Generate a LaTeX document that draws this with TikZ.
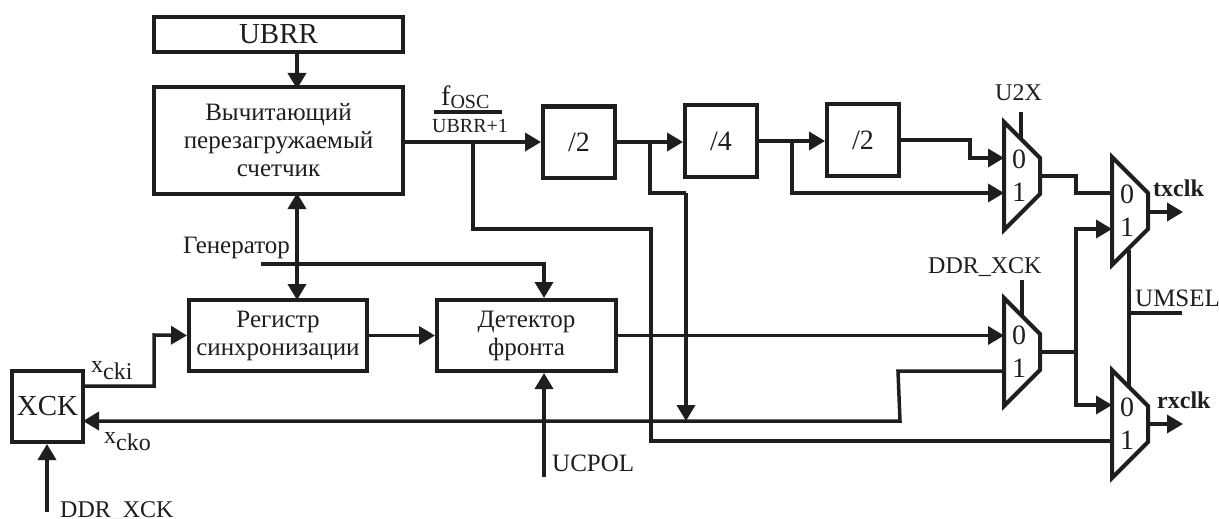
\documentclass[tikz,border=0pt]{standalone}
\usepackage{fontspec}
\setmainfont{Liberation Serif}
\usetikzlibrary{arrows.meta,calc}
\definecolor{ink}{HTML}{1E1E1E}
\newcommand{\fs}[1]{\fontsize{#1}{#1}\selectfont}
\tikzset{
  blk/.style={draw=ink,line width=4pt,fill=white,inner sep=0pt,align=center,text=ink},
  txtblk/.style={blk,font=\fontsize{25}{28}\selectfont},
  wire/.style={draw=ink,line width=3.5pt,line join=miter},
  arr/.style={wire,-{Triangle[length=16pt,width=18pt]}},
  darr/.style={wire,{Triangle[length=16pt,width=18pt]}-{Triangle[length=16pt,width=18pt]}},
  lab/.style={inner sep=0pt,text=ink,anchor=base west},
  muxshape/.style={draw=ink,line width=4pt,fill=white,line join=miter},
}
% mux: name, left x, top y
\newcommand{\muxblk}[3]{%
  \coordinate (#1-a) at (#2,#3);
  \coordinate (#1-b) at (#2+36,#3+36);
  \coordinate (#1-c) at (#2+36,#3+72);
  \coordinate (#1-d) at (#2,#3+108);
  \filldraw[muxshape] (#1-a) -- (#1-b) -- (#1-c) -- (#1-d) -- cycle;
  \node[inner sep=0pt,text=ink] (#1-l0) at (#2+15,#3+37) {\fs{28}0};
  \node[inner sep=0pt,text=ink] (#1-l1) at (#2+15,#3+70) {\fs{28}1};
}
\begin{document}
\begin{tikzpicture}[x=1pt,y=-1pt]
\useasboundingbox (0,0) rectangle (1219,519);
\fill[white] (0,0) rectangle (1219,519);

\coordinate (tapA) at (473,142);
\coordinate (tapB) at (650,142);
\coordinate (tapC) at (792,141);
\coordinate (genL) at (261,264);
\coordinate (polB) at (544,477);
\coordinate (ddrB) at (47,512);
\coordinate (u2xT) at (1021,112);
\coordinate (ddrT) at (1022,280);
\coordinate (umselT) at (1129,250);
\coordinate (umselB) at (1129,387);
\coordinate (umselJ) at (1129,313);
\coordinate (umselE) at (1182,313);
\coordinate (txE) at (1183,212);
\coordinate (rxE) at (1183,424);
\coordinate (xckoJ) at (686,421);

% blocks
\node[blk,minimum width=249pt,minimum height=35pt] (ubrr) at (278.5,34.5) {\fs{29}UBRR};
\node[txtblk,minimum width=249pt,minimum height=106pt] (cnt) at (278.5,140.5) {Вычитающий\\перезагружаемый\\счетчик};
\node[blk,minimum width=72pt,minimum height=71pt] (d1) at (579,142) {\fs{28}/2};
\node[blk,minimum width=72pt,minimum height=72pt] (d2) at (721,141) {\fs{28}/4};
\node[blk,minimum width=72pt,minimum height=72pt] (d3) at (863,140) {\fs{28}/2};
\node[txtblk,minimum width=178pt,minimum height=71pt] (reg) at (278,335.5) {Регистр\\синхронизации};
\node[txtblk,minimum width=179pt,minimum height=71pt] (det) at (526.5,335.5) {Детектор\\фронта};
\node[blk,minimum width=71pt,minimum height=71pt] (xck) at (47.5,406.5) {\fs{29}XCK};

% top wires
\draw[arr] (ubrr.south -| cnt.north) ++(18.5,0) -- ++(0,35);
\draw[arr] (cnt.east |- d1.west) -- (d1.west);
\draw[wire] (tapA) -- (473,229) -- (651,229) -- (651,441) -- (1112,441);
\draw[arr] (d1.east) -- (d1.east -| d2.west);
\draw[wire] (tapB) -- (650,193) -- (686,193);
\draw[arr] (686,193) -- (xckoJ);
\draw[arr] (d2.east) -- (d2.east -| d3.west);
\draw[arr] (tapC) -- (792,193) -- (1004,193);
\draw[arr] (d3.east) -- (970,140) -- (970,158) -- (1004,158);

% generator
\draw[darr] (297,193) -- (297,300);
\draw[arr] (genL) -- (polB |- genL) -- (polB |- det.north);
% sync path
\draw[arr] (83,386) -- (154,386) -- (154,335) -- (reg.west);
\draw[arr] (reg.east) -- (det.west);
\draw[arr] (polB) -- (polB |- det.south);
\draw[arr] (ddrB) -- (ddrB |- xck.south);
\draw[arr] (det.east) -- (1004,335.5);
\draw[arr] (1004,371) -- (898,371) -- (900,421) -- (83,421);

% muxes wires
\draw[wire] (u2xT) -- (1021,140);
\draw[wire] (ddrT) -- (1022,316);
\draw[wire] (umselT) -- (umselB);
\draw[wire] (umselJ) -- (umselE);
\draw[wire] (1041,176) -- (1076,176) -- (1076,193) -- (1112,193);
\draw[arr] (1041,352) -- (1076,352) -- (1076,229) -- (1112,229);
\draw[arr] (1076,352) -- (1076,405) -- (1112,405);
\draw[arr] (1147,212) -- (txE);
\draw[arr] (1147,424) -- (rxE);

\muxblk{m1}{1004}{122}
\muxblk{m2}{1112}{157}
\muxblk{m3}{1004}{298}
\muxblk{m4}{1112}{370}

% labels
\coordinate (fracL) at (434,112);
\coordinate (fracR) at (502,112);
\draw[draw=ink,line width=3.5pt] (fracL) -- (fracR);
\node[lab] (fosc) at (441,106) {\fs{28}f\raisebox{-3pt}{\fs{20}OSC}};
\node[lab] (ubrr1) at (432,132) {\fs{20}UBRR+1};
\node[lab] (u2x) at (995,100) {\fs{24}U2X};
\node[lab] (ddr1) at (928,273) {\fs{24}DDR\_XCK};
\node[lab] (umsel) at (1135,306) {\fs{25}UMSEL};
\node[lab] (gen) at (183,253) {\fs{25}Генератор};
\node[lab] (pol) at (552,471) {\fs{25}UCPOL};
\node[lab] (ddr2) at (60,517) {\fs{24}DDR\_XCK};
\node[lab] (xi) at (91,372) {\fs{24}x\raisebox{-7pt}{\fs{24}cki}};
\node[lab] (xo) at (104,443) {\fs{24}x\raisebox{-7pt}{\fs{24}cko}};
\node[lab] (tx) at (1153,196) {\fs{24}\bfseries txclk};
\node[lab] (rx) at (1157,408) {\fs{24}\bfseries rxclk};
\end{tikzpicture}
\end{document}
